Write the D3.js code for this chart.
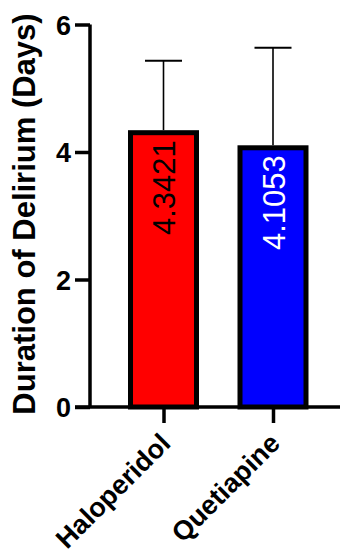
<!DOCTYPE html>
<html>
<head>
  <meta charset="utf-8">
  <script src="https://cdn.jsdelivr.net/npm/d3@7"></script>
  <style>
    body { margin: 0; background: #fff; }
    svg { display: block; font-family: "Liberation Sans", Arial, sans-serif; }
    .axis path, .axis line { stroke: #000; stroke-width: 3.5; }
    .axis text { font-weight: bold; fill: #000; }
  </style>
</head>
<body>
<script>
  // data
  var groups = ["Haloperidol", "Quetiapine"];
  var means = [4.3421, 4.1053];
  var sds = [1.09, 1.53];
  var barColors = ["#ff0000", "#0000ff"];
  var labelColors = ["#000000", "#ffffff"];
  var yTicks = [0, 2, 4, 6];

  var W = 340, H = 557;
  var svg = d3.select("body").append("svg")
      .attr("width", W)
      .attr("height", H);

  var y = d3.scaleLinear().domain([0, 6]).range([407, 24.5]);
  var x = d3.scalePoint().domain(groups).range([54, 382.5]).padding(1);
  var axisX = 90;
  var barW = 66;

  var rows = groups.map(function(g, i) {
    return {g: g, m: means[i], sd: sds[i], fill: barColors[i], lab: labelColors[i]};
  });

  // bars
  svg.selectAll("rect.bar")
    .data(rows)
    .enter().append("rect")
      .attr("class", "bar")
      .attr("x", function(d) { return x(d.g) - barW / 2; })
      .attr("y", function(d) { return y(d.m) + 2.5; })
      .attr("width", barW)
      .attr("height", function(d) { return y(0) - y(d.m) - 2.5; })
      .attr("fill", function(d) { return d.fill; })
      .attr("stroke", "#000")
      .attr("stroke-width", 5);

  // error bars (upper only)
  var err = svg.selectAll("g.err")
    .data(rows)
    .enter().append("g")
      .attr("class", "err");
  err.append("line")
      .attr("x1", function(d) { return x(d.g); })
      .attr("x2", function(d) { return x(d.g); })
      .attr("y1", function(d) { return y(d.m); })
      .attr("y2", function(d) { return y(d.m + d.sd); })
      .attr("stroke", "#000")
      .attr("stroke-width", 1.6);
  err.append("line")
      .attr("x1", function(d) { return x(d.g) - 18.5; })
      .attr("x2", function(d) { return x(d.g) + 18.5; })
      .attr("y1", function(d) { return y(d.m + d.sd); })
      .attr("y2", function(d) { return y(d.m + d.sd); })
      .attr("stroke", "#000")
      .attr("stroke-width", 2);

  // value labels inside the bars
  svg.selectAll("text.val")
    .data(rows)
    .enter().append("text")
      .attr("class", "val")
      .attr("transform", function(d) {
        return "translate(" + (x(d.g) + 11.5) + "," + (y(d.m) + 10) + ") rotate(-90)";
      })
      .attr("text-anchor", "end")
      .attr("font-size", 31)
      .attr("fill", function(d) { return d.lab; })
      .text(function(d) { return d.m.toFixed(4); });

  // y axis
  var ya = svg.append("g")
      .attr("class", "axis")
      .attr("transform", "translate(" + axisX + ",0)")
      .call(d3.axisLeft(y).tickValues(yTicks).tickSize(15).tickPadding(4).tickFormat(d3.format("d")));
  ya.select(".domain").attr("d", "M0," + y(6) + "V" + y(0));
  ya.selectAll("text").attr("font-size", 27).attr("dy", "0.36em");

  // x axis
  var xa = svg.append("g")
      .attr("class", "axis")
      .attr("transform", "translate(0," + y(0) + ")")
      .call(d3.axisBottom(x).tickSize(16).tickFormat(function(d) { return d; }));
  xa.select(".domain").attr("d", "M75,0H" + W);
  xa.selectAll("text")
      .attr("font-size", 27)
      .attr("text-anchor", "end")
      .attr("dy", null)
      .attr("y", 0)
      .attr("transform", "translate(8,38) rotate(-45)");

  // y title
  svg.append("text")
      .attr("transform", "translate(35," + ((y(0) + 8 + 13) / 2) + ") rotate(-90)")
      .attr("text-anchor", "middle")
      .attr("font-size", 31)
      .attr("font-weight", "bold")
      .text("Duration of Delirium (Days)");
</script>
</body>
</html>
